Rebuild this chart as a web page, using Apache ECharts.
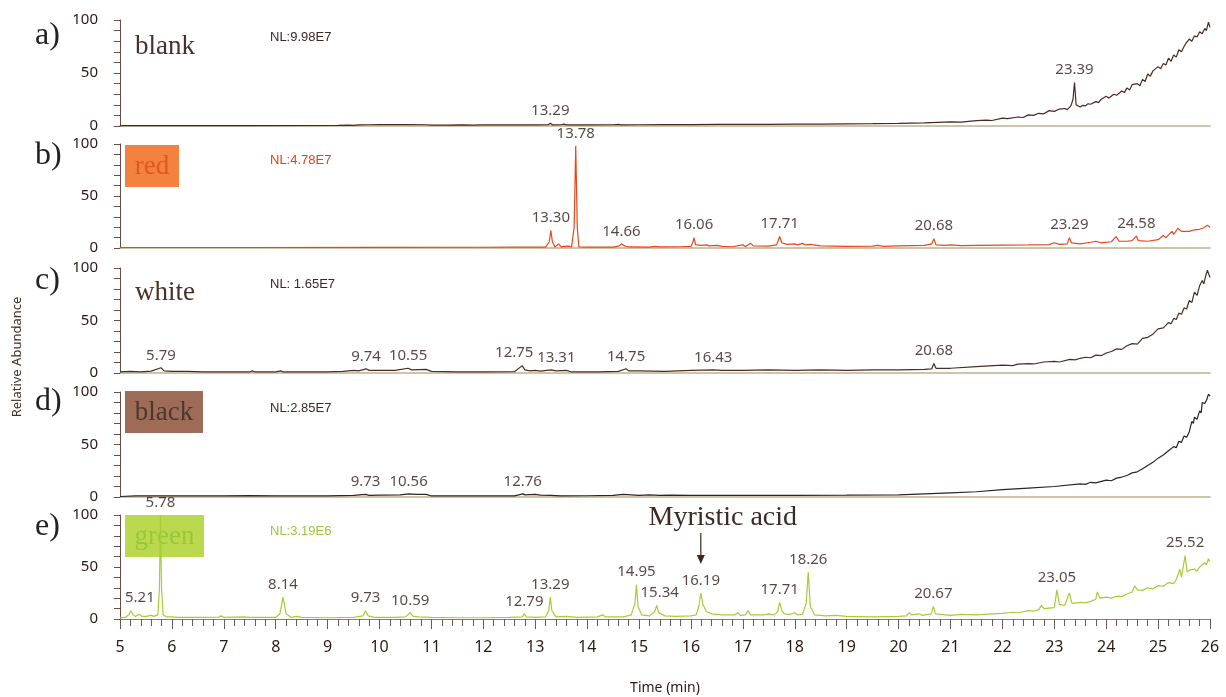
<!DOCTYPE html>
<html>
<head>
<meta charset="utf-8">
<script src="https://cdn.jsdelivr.net/npm/echarts@6/dist/echarts.min.js"></script>
<style>
html,body{margin:0;padding:0;background:#fff;}
#chart{width:1226px;height:697px;}
</style>
</head>
<body>
<div id="chart"></div>
<script>
// ---------------- DATA ----------------
const sampleNames = ['blank', 'red', 'white', 'black', 'green'];
const panelLetters = ['a)', 'b)', 'c)', 'd)', 'e)'];
const nlTexts = ['NL:9.98E7', 'NL:4.78E7', 'NL: 1.65E7', 'NL:2.85E7', 'NL:3.19E6'];
const yTicks = [0, 50, 100];
const timeRange = [5, 26];

const blankTrace = [[5.0,0.3],[5.6,0.3],[5.62,1],[5.65,0.3],[7.5,0.4],[7.52,1.2],[7.55,0.4],[9.2,0.5],[9.4,0.8],[9.5,0.6],[9.6,1],[9.8,1.2],[10.0,1.3],[10.5,1.3],[10.9,1.2],[11.0,0.8],[11.3,0.8],[11.6,1],[11.8,0.9],[12.0,1.1],[12.3,1],[12.7,1.1],[13.0,1],[13.25,1.2],[13.29,2.6],[13.33,1.1],[13.5,1.2],[13.55,1.8],[13.6,1.1],[14.0,1.1],[14.5,1.2],[14.6,1.6],[14.65,1.1],[15.0,1.2],[15.5,1.4],[16.0,1.3],[16.5,1.5],[17.0,1.6],[17.5,1.5],[18.0,1.7],[18.5,1.8],[19.0,2],[19.5,2.2],[20.0,2.5],[20.5,3],[21.0,3.8],[21.2,3.6],[21.3,4.2],[21.5,5],[21.7,5.6],[21.8,5.2],[22.0,7.5],[22.1,7],[22.3,8.5],[22.4,8],[22.5,10.5],[22.6,10],[22.7,12],[22.8,11.5],[22.9,14.5],[23.0,13.8],[23.1,16],[23.2,16.5],[23.25,15.5],[23.32,19],[23.36,25],[23.39,41],[23.42,20],[23.5,18],[23.55,19.5],[23.6,19],[23.65,21],[23.7,20.5],[23.8,23],[23.85,22],[23.9,25],[24.0,28],[24.05,26.5],[24.15,30],[24.2,29],[24.3,33],[24.35,31.5],[24.4,36],[24.45,34],[24.5,39],[24.6,40],[24.65,38],[24.7,44],[24.75,42],[24.8,49],[24.85,47],[24.9,52],[25.0,56],[25.05,54],[25.1,59],[25.15,57.5],[25.2,64],[25.25,61],[25.3,67],[25.35,65],[25.4,72],[25.45,70],[25.5,75],[25.55,79],[25.6,82],[25.65,80],[25.7,85],[25.75,84],[25.8,89],[25.85,87],[25.9,92],[25.93,90],[25.97,98],[26.0,93]];

const redTrace = [[5.0,0.5],[7.5,0.5],[7.52,1.2],[7.55,0.5],[10.0,0.6],[12.0,0.7],[12.6,0.8],[12.62,1.5],[12.65,0.8],[13.2,0.9],[13.27,6],[13.30,17],[13.33,6],[13.38,1],[13.45,4],[13.5,1],[13.55,1.5],[13.65,1.8],[13.7,1],[13.75,20],[13.78,98],[13.81,20],[13.84,1],[14.0,0.8],[14.5,0.9],[14.62,2],[14.66,4],[14.72,2],[14.8,1],[15.2,0.9],[15.3,1.5],[15.4,1],[15.8,1.2],[16.0,1.5],[16.04,6],[16.06,10],[16.09,3],[16.2,2.5],[16.3,3],[16.35,2],[16.5,2.5],[16.6,1.5],[16.8,1.2],[17.0,3],[17.05,1.5],[17.15,4.5],[17.2,2],[17.5,1.8],[17.65,3],[17.71,11],[17.75,5],[17.85,3.5],[18.0,4],[18.05,3],[18.15,4.5],[18.2,3],[18.3,3.5],[18.5,2],[19.0,1.5],[19.5,1.8],[19.6,2.5],[19.7,1.6],[20.0,2],[20.5,2.5],[20.64,4],[20.68,9],[20.72,3],[20.9,2.5],[21.0,3],[21.2,2.3],[21.5,2.5],[22.0,2.8],[22.5,3],[22.9,3.2],[23.0,5],[23.1,3.5],[23.25,4],[23.29,10],[23.33,5],[23.5,4],[23.7,5.5],[23.8,6.5],[23.9,5],[24.1,6],[24.19,11],[24.25,6.5],[24.4,6.5],[24.5,7],[24.58,11.5],[24.62,7],[24.8,6.5],[25.0,8],[25.1,12],[25.15,10],[25.27,16],[25.3,13],[25.38,19],[25.45,16],[25.6,16],[25.7,17.5],[25.8,18],[25.88,19.5],[25.95,22],[26.0,20]];

const whiteTrace = [[5.0,1],[5.2,1.5],[5.4,1],[5.6,1.8],[5.79,5],[5.85,2],[6.0,1.5],[6.3,1.5],[6.6,1],[7.0,1],[7.5,1],[7.55,2],[7.6,1],[8.0,1],[8.1,2],[8.15,1],[9.0,1],[9.3,1.5],[9.5,2.5],[9.6,2],[9.74,4],[9.8,2.5],[10.0,2.5],[10.3,2.5],[10.55,4.5],[10.62,3],[10.9,3.5],[11.0,1.5],[11.5,1],[12.0,1],[12.6,1.2],[12.75,7],[12.8,3],[12.9,2],[13.0,2.5],[13.1,1.8],[13.31,3],[13.4,2],[13.6,2.5],[13.7,1],[14.2,1],[14.6,1.5],[14.75,4],[14.8,2],[15.0,2],[15.5,1.5],[16.0,2.5],[16.43,3],[16.6,2.5],[17.0,2.5],[17.5,3],[18.0,2.5],[18.5,3],[19.0,2.5],[19.5,3],[20.0,3],[20.5,3.5],[20.64,4],[20.68,9],[20.72,4.5],[21.0,4.5],[21.5,6],[22.0,7.5],[22.2,7],[22.3,8.5],[22.5,9],[22.6,8.6],[22.8,10.5],[23.0,11],[23.1,10.5],[23.3,13],[23.4,12.5],[23.5,14],[23.6,15],[23.7,14.5],[23.8,17],[23.9,16.5],[24.0,19],[24.1,20.5],[24.2,23],[24.3,22.5],[24.4,26],[24.5,28],[24.6,27.5],[24.7,33],[24.8,34],[24.9,37],[25.0,42],[25.1,43],[25.2,48],[25.25,47],[25.3,52],[25.35,51],[25.4,57],[25.45,56],[25.5,62],[25.55,61],[25.6,69],[25.65,67],[25.7,77],[25.75,74],[25.8,83],[25.85,88],[25.88,85],[25.92,93],[25.95,98],[26.0,91]];

const blackTrace = [[5.0,0.5],[5.3,1],[6.0,1],[7.0,1],[7.5,1.3],[8.0,1],[9.0,1],[9.5,1.5],[9.73,2.5],[9.8,1.5],[10.0,1.8],[10.4,2],[10.56,3],[10.7,2.5],[10.9,2.5],[11.0,1],[12.0,1],[12.6,1],[12.76,3],[12.8,2],[13.0,2.5],[13.1,1.8],[13.3,1.5],[13.5,1],[14.0,1.2],[14.5,1.5],[14.7,2.5],[15.0,1.5],[15.2,2],[15.4,1.5],[15.6,1.8],[16.0,1.5],[17.0,1.5],[18.0,1.6],[19.0,1.7],[20.0,2],[20.5,3],[21.0,4],[21.5,5],[22.0,7],[22.5,8.5],[23.0,10],[23.5,12.5],[23.6,12],[23.7,14],[23.8,13.5],[24.0,16],[24.1,15.5],[24.2,18],[24.3,19],[24.4,20.5],[24.5,23],[24.6,24],[24.7,27],[24.8,30],[24.9,33],[25.0,37],[25.1,40],[25.2,44],[25.3,48],[25.35,47],[25.4,53],[25.45,52],[25.5,58],[25.55,57],[25.6,62],[25.63,61],[25.65,72],[25.68,70],[25.7,76],[25.75,74],[25.8,82],[25.83,80],[25.85,90],[25.9,89],[25.94,93],[25.97,98],[26.0,96]];

const greenTrace = [[5.0,1],[5.1,1.5],[5.17,4],[5.21,8],[5.25,4],[5.3,2.5],[5.37,4.5],[5.42,2.5],[5.5,2.5],[5.6,3.5],[5.65,2.5],[5.73,4],[5.76,30],[5.78,100],[5.8,30],[5.83,4],[5.9,2],[6.0,2],[6.1,1.5],[6.5,1.5],[6.9,1.8],[6.95,3],[7.0,1.5],[7.4,2],[7.5,1.5],[8.0,1.5],[8.08,5],[8.14,21],[8.2,5],[8.3,1.5],[8.4,2.5],[8.5,1.5],[9.0,1.2],[9.5,1.5],[9.68,3],[9.73,8],[9.78,3],[9.9,1.5],[10.3,1.5],[10.5,2],[10.59,6],[10.65,2.5],[10.75,2],[11.0,1.5],[11.5,1.2],[12.0,1.2],[12.5,1.5],[12.75,2],[12.79,5],[12.83,2],[13.0,1.5],[13.2,2],[13.26,8],[13.29,21],[13.32,8],[13.4,2],[13.6,2.5],[13.8,1.5],[14.2,2],[14.3,4],[14.35,2],[14.7,2],[14.85,4],[14.92,15],[14.95,33],[14.98,12],[15.05,4],[15.2,3],[15.3,7],[15.34,13],[15.38,6],[15.5,3],[15.7,2.5],[16.0,3],[16.1,4],[16.15,12],[16.19,25],[16.23,14],[16.3,7],[16.4,5],[16.6,4],[16.85,4],[16.9,6],[16.95,3.5],[17.05,4],[17.1,8],[17.15,4],[17.4,4],[17.5,5],[17.6,4],[17.67,7],[17.71,16],[17.75,8],[17.8,5],[17.9,4.5],[18.0,6],[18.05,4],[18.15,4.5],[18.22,15],[18.26,45],[18.3,12],[18.38,4],[18.6,3],[18.8,3.5],[19.0,2.5],[19.5,2],[20.0,2.5],[20.15,3],[20.2,6],[20.25,4],[20.4,5],[20.45,3.5],[20.63,5],[20.67,12],[20.71,5],[21.0,3.5],[21.2,4.5],[21.5,4],[21.8,5],[22.0,5.5],[22.2,6.5],[22.3,6],[22.4,7],[22.5,8],[22.6,7.5],[22.7,9],[22.75,13],[22.8,10],[23.0,11],[23.05,28],[23.1,14],[23.2,13],[23.29,25],[23.34,15],[23.5,16],[23.6,15.5],[23.7,17],[23.8,19],[23.83,26],[23.88,20],[24.0,21],[24.1,20],[24.2,22],[24.3,21.5],[24.4,24],[24.5,26],[24.55,32],[24.6,28],[24.7,27.5],[24.8,30],[24.9,29],[25.0,32],[25.1,31.5],[25.2,35],[25.3,34],[25.35,38],[25.42,48],[25.45,40],[25.52,61],[25.56,45],[25.6,47],[25.7,48],[25.75,46],[25.8,50],[25.9,54],[25.93,52],[25.97,58],[26.0,55]];

const blankPeaks = [13.29, 23.39];
const redPeaks = [13.30, 13.78, 14.66, 16.06, 17.71, 20.68, 23.29, 24.58];
const whitePeaks = [5.79, 9.74, 10.55, 12.75, 13.31, 14.75, 16.43, 20.68];
const blackPeaks = [9.73, 10.56, 12.76];
const greenPeaks = [5.21, 5.78, 8.14, 9.73, 10.59, 12.79, 13.29, 14.95, 15.34, 16.19, 17.71, 18.26, 20.67, 23.05, 25.52];
const annotatedPeak = 16.19;
const annotationText = 'Myristic acid';
const xAxisName = 'Time (min)';
const yAxisName = 'Relative Abundance';

// ---------------- STYLE / LAYOUT ----------------
const traces = [blankTrace, redTrace, whiteTrace, blackTrace, greenTrace];
const peaks = [blankPeaks, redPeaks, whitePeaks, blackPeaks, greenPeaks];
const lineColors = ['#4a2a1e', '#e8461c', '#4a2e22', '#2e2420', '#a6cc38'];
const nlColors = ['#3a2a20', '#e2401c', '#3a2a20', '#3a2a20', '#9cc83a'];
const gridTops = [20, 144, 268, 392, 515];
const gridHeights = [106, 104, 105, 105, 104];
const textColor = '#2a1a12';
const sansFont = '"Noto Sans", Lato, sans-serif';
const serifFont = '"Liberation Serif", "DejaVu Serif", serif';
// horizontal nudges (px) for labels that would collide
const labelNudge = { '2:12.75': -8, '2:13.31': 5, '4:5.21': 9, '4:15.34': 3 };

function peakValue(trace, t) {
  let best = null, bd = 1e9;
  for (const p of trace) { const d = Math.abs(p[0] - t); if (d < bd) { bd = d; best = p; } }
  return best ? best[1] : 0;
}

const grids = [], xAxes = [], yAxes = [], series = [];
for (let i = 0; i < 5; i++) {
  grids.push({ left: 120, right: 16, top: gridTops[i], height: gridHeights[i] });
  const last = i === 4;
  xAxes.push({
    type: 'value', gridIndex: i, min: timeRange[0], max: timeRange[1], interval: 1,
    axisLine: { show: true, onZero: false, lineStyle: { color: last ? '#8a7f78' : '#c2b08a', width: last ? 1 : 1.5 } },
    axisTick: { show: last, length: 10, lineStyle: { color: '#6f5a50' } },
    minorTick: { show: last, splitNumber: 5, length: 7, lineStyle: { color: '#6f5a50' } },
    axisLabel: { show: last, fontSize: 16, color: textColor, margin: 20, fontFamily: sansFont },
    splitLine: { show: false }, minorSplitLine: { show: false },
    name: last ? xAxisName : '', nameLocation: 'middle', nameGap: 62,
    nameTextStyle: { fontSize: 14, color: textColor, fontFamily: sansFont }
  });
  yAxes.push({
    type: 'value', gridIndex: i, min: yTicks[0], max: yTicks[yTicks.length - 1], interval: 50,
    axisLine: { show: true, lineStyle: { color: '#6b4a40' } },
    axisTick: { show: true, length: 6, lineStyle: { color: '#6b4a40' } },
    minorTick: { show: true, splitNumber: 5, length: 6, lineStyle: { color: '#6b4a40' } },
    axisLabel: { fontSize: 15, color: textColor, margin: 22, fontFamily: sansFont },
    splitLine: { show: false }
  });
  series.push({
    type: 'line', xAxisIndex: i, yAxisIndex: i, data: traces[i], showSymbol: false, symbol: 'none',
    lineStyle: { color: lineColors[i], width: 1.2 }, z: 3, animation: false, clip: false
  });
  series.push({
    type: 'scatter', xAxisIndex: i, yAxisIndex: i, silent: true, symbolSize: 2,
    itemStyle: { color: 'rgba(0,0,0,0)' }, z: 4,
    data: peaks[i].map(t => {
      const dx = labelNudge[i + ':' + t.toFixed(2)] || 0;
      return { value: [t, peakValue(traces[i], t)], label: { offset: [dx, 0] } };
    }),
    label: {
      show: true, position: 'top', distance: 4, fontSize: 15, color: textColor, fontFamily: sansFont,
      formatter: p => p.value[0].toFixed(2)
    }
  });
}

const graphic = [];
const letterY = [38, 158, 283, 404, 529];
for (let i = 0; i < 5; i++) {
  graphic.push({ type: 'text', left: 35, top: letterY[i] - 18, style: { text: panelLetters[i], font: '32px ' + serifFont, fill: '#222' } });
  graphic.push({ type: 'text', left: 270, top: gridTops[i] + (i === 0 ? 11 : 10), style: { text: nlTexts[i], font: '13px "Liberation Sans", Arial, sans-serif', fill: nlColors[i] } });
}
// sample name tags
graphic.push({ type: 'text', left: 135, top: 33, style: { text: sampleNames[0], font: '27px ' + serifFont, fill: '#4a3028' } });
graphic.push({ type: 'rect', shape: { x: 125, y: 145, width: 54, height: 42 }, style: { fill: '#f4823f' }, z: -1 });
graphic.push({ type: 'text', x: 152, y: 167, style: { text: sampleNames[1], font: '27px ' + serifFont, fill: '#e4561c', align: 'center', verticalAlign: 'middle' } });
graphic.push({ type: 'text', left: 135, top: 279, style: { text: sampleNames[2], font: '27px ' + serifFont, fill: '#4a3028' } });
graphic.push({ type: 'rect', shape: { x: 125, y: 391, width: 78, height: 42 }, style: { fill: '#9e6b57' }, z: -1 });
graphic.push({ type: 'text', x: 164, y: 413, style: { text: sampleNames[3], font: '27px ' + serifFont, fill: '#4a3830', align: 'center', verticalAlign: 'middle' } });
graphic.push({ type: 'rect', shape: { x: 125, y: 515, width: 79, height: 42 }, style: { fill: '#bad94f' }, z: -1 });
graphic.push({ type: 'text', x: 164.5, y: 537, style: { text: sampleNames[4], font: '27px ' + serifFont, fill: '#98c83a', align: 'center', verticalAlign: 'middle' } });
// y axis title
graphic.push({ type: 'text', x: 17, y: 357, rotation: Math.PI / 2, style: { text: yAxisName, font: '13px ' + sansFont, fill: '#4a3028', align: 'center', verticalAlign: 'middle' } });

const chart = echarts.init(document.getElementById('chart'), null, { renderer: 'canvas' });
chart.setOption({
  animation: false,
  backgroundColor: '#fff',
  grid: grids, xAxis: xAxes, yAxis: yAxes, series: series, graphic: graphic
});

// annotation arrow positioned from the data coordinate of the annotated peak
const px = chart.convertToPixel({ xAxisIndex: 4, yAxisIndex: 4 }, [annotatedPeak, 0])[0];
graphic.push({ type: 'text', x: px + 22, y: 518, style: { text: annotationText, font: '28px ' + serifFont, fill: '#3a2a22', align: 'center', verticalAlign: 'middle' } });
graphic.push({ type: 'line', shape: { x1: px, y1: 533, x2: px, y2: 557 }, style: { stroke: '#3a2a22', lineWidth: 1.2 } });
graphic.push({ type: 'polygon', shape: { points: [[px - 4, 555], [px + 4, 555], [px, 564]] }, style: { fill: '#3a2a22' } });
chart.setOption({ graphic: graphic });
</script>
</body>
</html>
